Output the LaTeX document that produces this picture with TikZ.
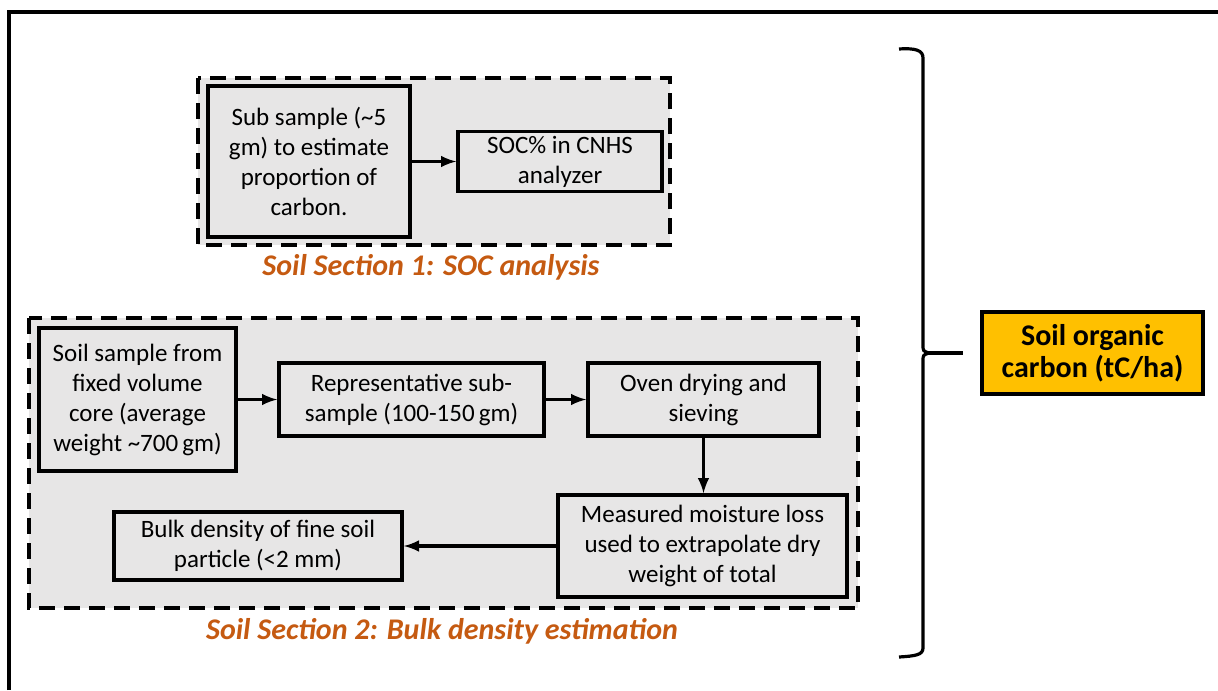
\documentclass[tikz,border=0pt]{standalone}
\usepackage{fontspec}
\setmainfont{Carlito}
\usetikzlibrary{positioning}
\definecolor{panelgray}{HTML}{E7E6E6}
\definecolor{captionorange}{HTML}{C55A11}
\definecolor{socyellow}{HTML}{FFC000}
\tikzset{
  stepbox/.style={draw, line width=1.8pt, fill=panelgray, align=center, inner sep=2pt,
    font=\fontsize{12.5}{15}\selectfont},
  panel/.style={draw, line width=1.8pt, dash pattern=on 8pt off 4.5pt, fill=panelgray},
  caption/.style={text=captionorange, font=\fontsize{15}{18}\selectfont\bfseries\itshape},
  flow/.style={->, >=latex, line width=1.6pt}
}
\begin{document}
\begin{tikzpicture}[x=0.5pt, y=-0.5pt]
\useasboundingbox (0,0) rectangle (1218,690);
% outer frame
\draw[line width=1.6pt] (9,690) -- (9,12) -- (1218,12);

% section 1
\draw[panel] (198,78) rectangle (670,245);
\node[stepbox, minimum width=101pt, minimum height=75.5pt] (sub) at (309,161.5)
  {Sub sample (\textasciitilde5\\gm) to estimate\\proportion of\\carbon.};
\node[stepbox, minimum width=102pt, minimum height=30pt] (soc) at (560,161.5)
  {SOC\% in CNHS\\analyzer};
\node[caption] (cap1) at (431,267) {Soil Section 1: SOC analysis};
\draw[flow] (sub.east) -- (soc.west);

% section 2
\draw[panel] (29,318) rectangle (858,608);
\node[stepbox, minimum width=98.5pt, minimum height=71.5pt] (soil) at (137.5,399.5)
  {Soil sample from\\fixed volume\\core (average\\weight \textasciitilde700\,gm)};
\node[stepbox, minimum width=132.5pt, minimum height=36.5pt] (rep) at (411.5,399.5)
  {Representative sub-\\sample (100-150\,gm)};
\node[stepbox, minimum width=115.5pt, minimum height=36.5pt] (oven) at (703.5,399.5)
  {Oven drying and\\sieving};
\node[stepbox, minimum width=144.5pt, minimum height=51pt] (meas) at (702.5,546)
  {Measured moisture loss\\used to extrapolate dry\\weight of total};
\node[stepbox, minimum width=144pt, minimum height=34pt] (bulk) at (258,546)
  {Bulk density of fine soil\\particle (<2 mm)};
\node[caption] (cap2) at (442,631) {Soil Section 2: Bulk density estimation};
\draw[flow] (soil.east) -- (rep.west);
\draw[flow] (rep.east) -- (oven.west);
\draw[flow] (oven.south) -- (oven.south |- meas.north);
\draw[flow] (meas.west) -- (bulk.east);

% brace and result
\draw[line width=1.6pt] (899,49) .. controls (915,48) and (923,50) .. (923,58) -- (923,345)
  .. controls (923,351) .. (929,353) .. controls (923,355) .. (923,361) -- (923,648)
  .. controls (923,655) and (915,656) .. (899,657);
\coordinate (tip) at (929,353);
\coordinate (lineend) at (963,353);
\draw[line width=1.6pt] (tip) -- (lineend);
\node[draw, line width=1.8pt, fill=socyellow, align=center, minimum width=110.5pt,
  minimum height=41pt, font=\fontsize{15}{16}\selectfont\bfseries] (total) at (1092.5,353)
  {Soil organic\\carbon (tC/ha)};
\end{tikzpicture}
\end{document}
